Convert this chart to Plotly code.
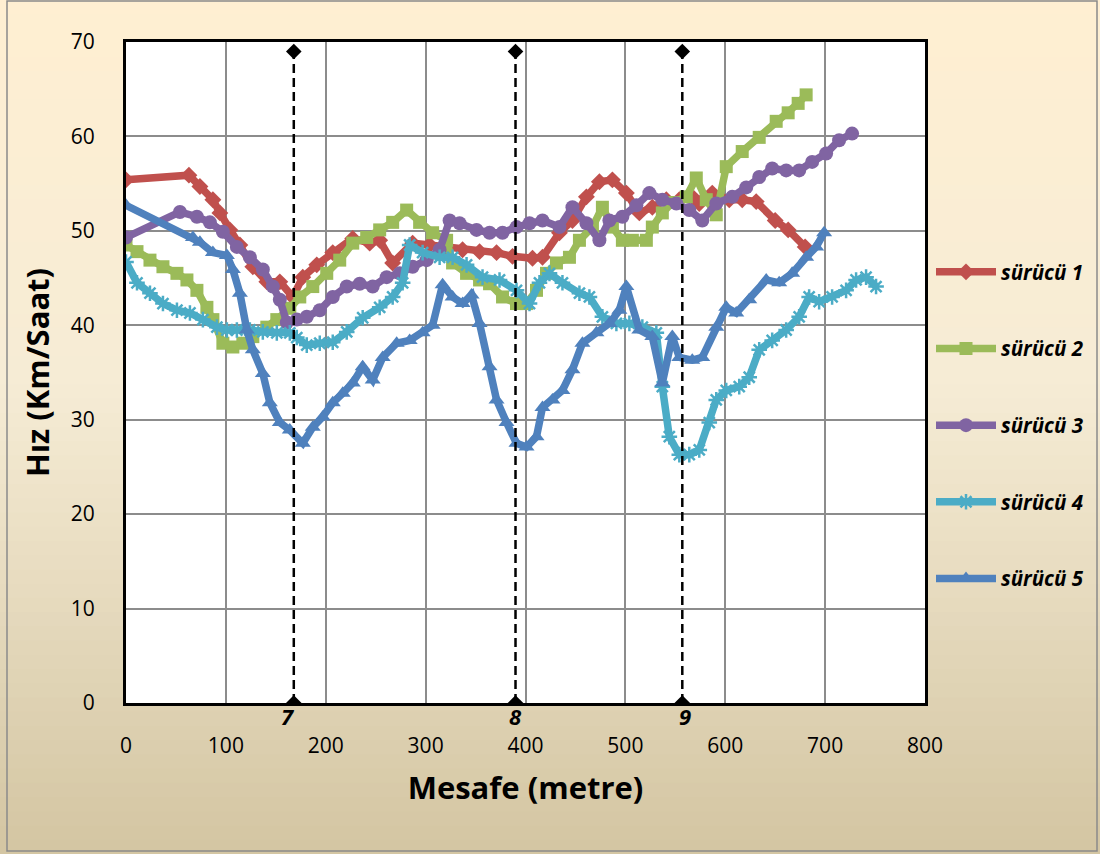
import plotly.graph_objects as go

# ---------------- data ----------------
names = ["sürücü 1", "sürücü 2", "sürücü 3", "sürücü 4", "sürücü 5"]

x1 = [0, 63, 74, 87, 94, 104, 114, 127, 141, 154, 167, 177, 191, 207, 227, 244, 254, 267, 287, 304,
      321, 337, 354, 371, 387, 407, 417, 434, 447, 461, 474, 487, 501, 514, 527, 541, 554, 567, 574,
      587, 604, 617, 631, 650, 663, 680]
y1 = [55.4, 55.9, 54.7, 53.3, 51.9, 50.1, 48.5, 46.2, 44.6, 44.6, 43.0, 45.1, 46.4, 47.7, 49.2, 48.7,
      49.0, 46.6, 48.7, 48.5, 48.3, 48.0, 47.8, 47.7, 47.3, 47.1, 47.2, 49.8, 51.1, 53.6, 55.2, 55.4,
      54.0, 51.9, 52.5, 53.3, 53.3, 53.6, 52.9, 54.0, 53.3, 53.3, 53.1, 51.1, 50.1, 48.3]

x2 = [0, 11, 24, 37, 51, 61, 71, 81, 87, 97, 107, 117, 127, 141, 151, 164, 174, 187, 201, 214, 227,
      241, 254, 267, 281, 294, 307, 321, 327, 341, 354, 364, 377, 391, 401, 411, 421, 431, 444, 454,
      467, 477, 487, 497, 507, 521, 527, 537, 547, 561, 571, 581, 591, 601, 617, 634, 651, 663, 673, 681]
y2 = [48.5, 47.8, 46.9, 46.2, 45.5, 44.8, 43.7, 41.9, 40.6, 38.1, 37.7, 38.1, 38.8, 39.8, 40.6, 41.8,
      43.0, 44.1, 45.5, 46.9, 48.7, 49.3, 50.1, 50.9, 52.2, 50.9, 49.8, 49.0, 46.6, 45.5, 44.8, 44.4,
      43.0, 42.3, 42.3, 43.7, 45.5, 46.6, 47.2, 49.0, 50.4, 52.5, 50.4, 49.0, 49.0, 49.0, 50.4, 51.9,
      53.0, 53.6, 55.6, 53.3, 51.7, 56.8, 58.4, 59.9, 61.6, 62.5, 63.5, 64.4]

x3 = [0, 54, 71, 84, 97, 111, 124, 137, 147, 154, 161, 171, 181, 194, 207, 221, 234, 247, 261, 274,
      287, 301, 314, 324, 334, 351, 364, 377, 391, 404, 417, 434, 447, 461, 474, 484, 497, 511, 524,
      537, 551, 564, 577, 591, 607, 621, 634, 647, 661, 674, 687, 701, 714, 727]
y3 = [49.3, 52.0, 51.5, 50.9, 49.9, 48.3, 47.2, 45.9, 44.1, 42.7, 40.3, 40.6, 40.9, 41.6, 43.0, 44.1,
      44.4, 44.1, 45.1, 45.5, 46.2, 46.9, 48.0, 51.1, 50.8, 50.1, 49.8, 49.8, 50.4, 50.8, 51.1, 50.4,
      52.5, 50.8, 49.0, 51.1, 51.5, 52.7, 54.0, 53.3, 52.9, 52.2, 51.1, 52.9, 53.6, 54.6, 55.7, 56.6,
      56.4, 56.4, 57.3, 58.2, 59.6, 60.3]

x4 = [0, 11, 24, 37, 51, 64, 77, 91, 101, 111, 124, 137, 151, 164, 171, 181, 194, 207, 221, 237, 254,
      267, 277, 284, 297, 314, 327, 341, 357, 374, 391, 404, 414, 424, 437, 454, 464, 477, 491, 504,
      517, 531, 537, 544, 554, 564, 574, 584, 591, 601, 614, 624, 634, 647, 661, 674, 684, 694, 707,
      721, 731, 741, 751]
y4 = [46.7, 44.5, 43.4, 42.3, 41.6, 41.3, 40.6, 39.8, 39.5, 39.5, 39.5, 39.3, 39.2, 39.2, 38.7, 37.9,
      38.1, 38.2, 39.3, 40.8, 41.9, 43.0, 44.5, 48.5, 47.7, 47.2, 47.2, 46.4, 45.1, 44.8, 43.7, 42.3,
      44.5, 45.5, 44.5, 43.4, 43.0, 40.9, 40.2, 40.2, 39.8, 39.2, 33.5, 28.2, 26.3, 26.3, 26.8, 29.7,
      32.1, 33.1, 33.5, 34.5, 37.4, 38.4, 39.5, 40.9, 43.0, 42.5, 43.0, 43.7, 44.8, 45.1, 44.1]

x5 = [0, 67, 74, 87, 101, 107, 114, 121, 127, 137, 144, 154, 164, 177, 187, 197, 207, 217, 227, 237,
      247, 257, 271, 284, 297, 307, 317, 327, 337, 346, 354, 364, 371, 381, 391, 401, 411, 417, 427,
      437, 447, 457, 471, 484, 494, 501, 514, 527, 537, 547, 554, 567, 577, 591, 601, 611, 624, 641,
      654, 667, 681, 691, 699]
y5 = [52.7, 49.3, 48.8, 47.7, 47.4, 45.9, 43.4, 39.5, 37.4, 34.9, 31.8, 29.7, 28.9, 27.5, 29.2, 30.3,
      31.8, 32.8, 33.9, 35.6, 34.2, 36.6, 38.1, 38.4, 39.2, 40.0, 44.3, 43.0, 42.3, 43.2, 40.2, 35.6,
      32.1, 29.7, 27.5, 27.1, 28.2, 31.3, 32.1, 33.1, 35.3, 38.1, 39.2, 40.2, 41.6, 44.1, 39.5, 38.8,
      33.9, 38.8, 36.6, 36.3, 36.6, 39.8, 41.9, 41.3, 42.7, 44.8, 44.5, 45.5, 47.2, 48.3, 49.8]

# reference (intersection) lines
ref_x = [168, 390, 557]
ref_labels = ["7", "8", "9"]
ref_top = 69

x_ticks = [0, 100, 200, 300, 400, 500, 600, 700, 800]
y_ticks = [0, 10, 20, 30, 40, 50, 60, 70]

# ---------------- style ----------------
colors = ["#C0504D", "#9BBB59", "#8064A2", "#4BACC6", "#4F81BD"]
symbols = ["diamond", "square", "circle", "asterisk-open", "triangle-up"]
msizes = [13, 13, 14, 13, 14]
FONT = "Open Sans"

fig = go.Figure()

xs = [x1, x2, x3, x4, x5]
ys = [y1, y2, y3, y4, y5]
for i in range(5):
    sym_line = dict(width=2.5, color=colors[i]) if symbols[i] == "asterisk-open" else dict(width=0)
    fig.add_trace(go.Scatter(
        x=xs[i], y=ys[i], name=names[i], mode="lines+markers",
        line=dict(color=colors[i], width=7.5),
        marker=dict(symbol=symbols[i], size=msizes[i], color=colors[i], line=sym_line),
        legendgroup=names[i],
    ))

for j, rx in enumerate(ref_x):
    fig.add_trace(go.Scatter(
        x=[rx, rx], y=[0, ref_top], mode="lines+markers",
        line=dict(color="black", width=2.5, dash="9px,5px"),
        marker=dict(symbol="diamond", size=12, color="black"),
        showlegend=False, hoverinfo="skip",
    ))
    fig.add_annotation(x=rx, y=0, text=ref_labels[j], showarrow=False,
                       yshift=-13, xshift=[-6, 0, 3][j],
                       font=dict(family=FONT, size=22, color="black", weight="bold", style="italic"))

# ---------- background gradient (figure) ----------
W, H = 1100, 854
L, R, T, B = 126, 925, 42, 703
pw, ph = R - L, B - T
def px2x(p): return (p - L) / pw
def py2y(p): return (B - p) / ph

stops = [(0.0, (255, 239, 210)), (0.45, (246, 236, 213)), (1.0, (211, 197, 162))]
def col_at(t):
    for k in range(len(stops) - 1):
        t0, c0 = stops[k]
        t1, c1 = stops[k + 1]
        if t <= t1:
            f = (t - t0) / (t1 - t0)
            return "rgb(%d,%d,%d)" % tuple(round(c0[m] + (c1[m] - c0[m]) * f) for m in range(3))
    return "rgb(%d,%d,%d)" % stops[-1][1]

shapes = []
N = 60
for k in range(N):
    ytop = H * k / N
    ybot = H * (k + 1) / N + 1
    shapes.append(dict(type="rect", xref="paper", yref="paper", layer="below",
                       x0=px2x(0), x1=px2x(W), y0=py2y(ybot), y1=py2y(ytop),
                       fillcolor=col_at((k + 0.5) / N), line=dict(width=0)))
shapes.append(dict(type="rect", xref="paper", yref="paper", layer="below",
                   x0=0, x1=1, y0=0, y1=1, fillcolor="white", line=dict(width=0)))
shapes.append(dict(type="rect", xref="paper", yref="paper", layer="below",
                   x0=px2x(7), x1=px2x(1097), y0=py2y(851), y1=py2y(1),
                   fillcolor="rgba(0,0,0,0)", line=dict(color="#8a8a8a", width=1.5)))

fig.update_layout(
    width=W, height=H,
    margin=dict(l=L, r=W - R, t=T, b=H - B, pad=0, autoexpand=False),
    paper_bgcolor="white", plot_bgcolor="white",
    font=dict(family=FONT, size=21, color="black"),
    shapes=shapes,
    showlegend=True,
    legend=dict(x=px2x(931), y=py2y(252), xanchor="left", yanchor="top",
                bgcolor="rgba(0,0,0,0)", borderwidth=0,
                font=dict(family=FONT, size=20.5, color="black", weight="bold", style="italic"),
                traceorder="grouped", tracegroupgap=47, itemwidth=60),
    xaxis=dict(range=[0, 800], tickvals=x_ticks, ticktext=[str(v) for v in x_ticks],
               showgrid=True, gridcolor="#8c8c8c", gridwidth=1.5,
               showline=True, linecolor="black", linewidth=3, mirror=True,
               ticks="", ticklabelstandoff=22, zeroline=False,
               title=dict(text="Mesafe (metre)", standoff=20,
                          font=dict(family=FONT, size=31, color="black", weight="bold"))),
    yaxis=dict(range=[0, 70], tickvals=y_ticks, ticktext=[str(v) for v in y_ticks],
               showgrid=True, gridcolor="#8c8c8c", gridwidth=1.5,
               showline=True, linecolor="black", linewidth=3, mirror=True,
               ticks="", ticklabelstandoff=24, zeroline=False,
               title=dict(text="Hız (Km/Saat)", standoff=12,
                          font=dict(family=FONT, size=31, color="black", weight="bold"))),
)

fig.write_html("out.html")
